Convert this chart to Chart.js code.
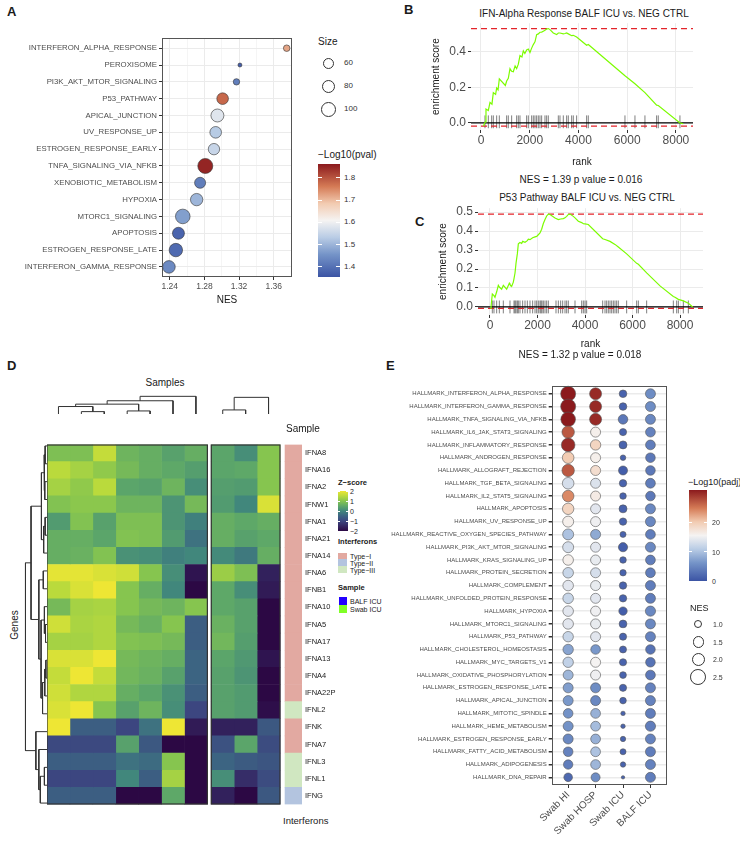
<!DOCTYPE html>
<html><head><meta charset="utf-8">
<script src="https://cdn.jsdelivr.net/npm/chart.js@4.4.1/dist/chart.umd.min.js"></script>
<style>
html,body{margin:0;padding:0;background:#fff;}
#root{position:relative;width:740px;height:845px;overflow:hidden;font-family:"Liberation Sans",Arial,sans-serif;color:#1a1a1a;background:#fff;}
.t{position:absolute;white-space:nowrap;line-height:1;}
canvas{position:absolute;}
.sw{position:absolute;}
</style></head><body><div id="root"></div>
<script>
// ================= DATA =================
// Panel A
const pathwaysA = ['INTERFERON_ALPHA_RESPONSE','PEROXISOME','PI3K_AKT_MTOR_SIGNALING','P53_PATHWAY','APICAL_JUNCTION','UV_RESPONSE_UP','ESTROGEN_RESPONSE_EARLY','TNFA_SIGNALING_VIA_NFKB','XENOBIOTIC_METABOLISM','HYPOXIA','MTORC1_SIGNALING','APOPTOSIS','ESTROGEN_RESPONSE_LATE','INTERFERON_GAMMA_RESPONSE'];
const nesA  = [1.375,1.321,1.317,1.301,1.295,1.293,1.291,1.281,1.275,1.271,1.255,1.250,1.247,1.239];
const sizeA = [22,8,21,69,86,69,66,115,62,78,109,73,92,81];
const pvalA = [1.72,1.37,1.42,1.78,1.58,1.53,1.55,1.85,1.42,1.50,1.47,1.38,1.39,1.44];
const sizeLegendA = [60,80,100];
const pvalTicksA = [1.4,1.5,1.6,1.7,1.8];
const pvalRangeA = [1.354,1.862];

// Panels B, C shared ticks
const rankTicks = [0,2000,4000,6000,8000];
// Panel B (running enrichment score: [rank, ES]) and hit ranks
const esCurveB = [[100,-0.018],[170,0.005],[205,0.078],[300,0.07],[370,0.115],[450,0.105],[506,0.17],[600,0.16],[643,0.196],[700,0.185],[752,0.247],[1000,0.21],[1053,0.235],[1121,0.25],[1190,0.305],[1258,0.29],[1326,0.287],[1400,0.32],[1463,0.305],[1532,0.33],[1600,0.378],[1680,0.37],[1737,0.405],[1800,0.39],[1873,0.41],[1942,0.415],[2010,0.396],[2079,0.42],[2147,0.44],[2215,0.455],[2284,0.496],[2352,0.5],[2420,0.509],[2489,0.51],[2557,0.515],[2626,0.52],[2694,0.527],[2762,0.53],[2831,0.524],[2967,0.505],[3104,0.496],[3173,0.505],[3241,0.505],[3378,0.5],[3446,0.502],[3515,0.505],[3583,0.5],[3720,0.49],[3788,0.492],[3925,0.482],[4335,0.436],[4403,0.44],[5908,0.265],[6318,0.22],[6728,0.17],[7207,0.1],[7275,0.098],[8164,0.0],[8300,-0.005]];
const hitsB = [164,301,438,506,643,752,1053,1121,1258,1463,1532,1600,1873,1942,2079,2147,2215,2284,2352,2420,2489,2626,2694,2762,3173,3241,3378,3515,3583,3720,3788,3925,4335,4403,5908,6318,6728,7207,7275,8164];
const esTicksB = [0,0.2,0.4];
const titleB = 'IFN-Alpha Response BALF ICU vs. NEG CTRL';
const statB = 'NES =  1.39 p value = 0.016';

// Panel C
const esCurveC = [[20,-0.008],[42,0],[98,0.068],[168,0.06],[210,0.051],[281,0.08],[351,0.114],[393,0.105],[491,0.094],[561,0.114],[702,0.094],[814,0.125],[842,0.118],[912,0.108],[982,0.131],[1011,0.15],[1053,0.179],[1095,0.23],[1151,0.28],[1193,0.333],[1263,0.34],[1333,0.335],[1375,0.346],[1474,0.341],[1572,0.35],[1614,0.358],[1684,0.355],[1796,0.365],[1895,0.37],[1965,0.372],[2035,0.381],[2105,0.39],[2175,0.41],[2246,0.44],[2316,0.461],[2386,0.48],[2456,0.49],[2526,0.488],[2737,0.469],[2877,0.461],[2975,0.464],[3088,0.466],[3158,0.47],[3228,0.478],[3298,0.488],[3368,0.49],[3509,0.478],[3579,0.47],[3719,0.452],[3860,0.445],[3930,0.439],[4000,0.438],[4140,0.435],[4744,0.36],[4842,0.356],[5053,0.346],[5263,0.33],[5403,0.316],[5754,0.28],[6175,0.23],[6246,0.225],[6596,0.18],[7158,0.111],[7719,0.055],[7789,0.051],[7930,0.04],[8140,0.032],[8351,0.02],[8533,0]];
const hitsC = [98,168,281,393,561,842,1011,1053,1095,1151,1193,1263,1375,1474,1572,1684,1796,1895,1965,2035,2105,2147,2189,2246,2316,2386,2456,2779,2877,2975,3060,3158,3228,3298,3579,3860,3930,4000,4070,4744,4842,4912,4982,5053,5123,5193,5263,5333,5403,5754,6175,6246,6596,7719,7860,7930,8140,8351];
const esTicksC = [0,0.1,0.2,0.3,0.4,0.5];
const titleC = 'P53 Pathway BALF ICU vs. NEG CTRL';
const statC = 'NES = 1.32 p value = 0.018';

// Panel D (z-scores per sample, rows in gene order)
const genesD = ['IFNA8','IFNA16','IFNA2','IFNW1','IFNA1','IFNA21','IFNA14','IFNA6','IFNB1','IFNA10','IFNA5','IFNA17','IFNA13','IFNA4','IFNA22P','IFNL2','IFNK','IFNA7','IFNL3','IFNL1','IFNG'];
const ifnTypeD = ['Type\u2212I','Type\u2212I','Type\u2212I','Type\u2212I','Type\u2212I','Type\u2212I','Type\u2212I','Type\u2212I','Type\u2212I','Type\u2212I','Type\u2212I','Type\u2212I','Type\u2212I','Type\u2212I','Type\u2212I','Type\u2212III','Type\u2212I','Type\u2212I','Type\u2212III','Type\u2212III','Type\u2212II'];
const BALF_ICU_1 = [0.9,1.5,1.3,0.95,0.3,0.6,0.6,1.9,1.5,0.8,1.7,1.3,1.8,1.6,1.7,1.8,2.0,-0.95,-0.6,-1.0,-0.6];
const BALF_ICU_2 = [0.9,1.3,1.1,1.05,0.95,0.6,0.65,1.9,1.8,1.3,1.35,1.3,1.8,2.0,1.4,2.0,-0.6,-0.95,-0.6,-1.0,-0.6];
const BALF_ICU_3 = [1.6,1.1,1.5,1.05,0.4,0.45,0.95,1.8,2.0,1.35,1.4,1.4,2.0,1.6,1.4,1.0,-0.6,-0.95,-0.6,-1.0,-0.6];
const BALF_ICU_4 = [0.7,0.8,0.45,0.7,0.9,0.95,0.15,1.7,1.0,1.0,0.8,0.95,0.8,0.75,0.6,0.4,-1.0,0.4,-0.3,0.0,-2.0];
const BALF_ICU_5 = [0.6,0.6,0.4,0.7,0.9,0.9,0.1,1.0,0.6,0.8,0.65,0.9,0.7,0.65,0.45,0.7,-0.3,-0.7,-0.4,-0.6,-2.0];
const BALF_ICU_6 = [0.4,0.5,0.7,0.2,0.2,0.3,-0.1,0.1,0.0,0.7,1.0,0.8,0.6,0.4,0.15,0.1,2.0,-2.0,1.0,1.3,0.5];
const BALF_ICU_7 = [0.6,0.35,0.1,0.8,-0.1,-0.3,0.0,-1.8,-2.0,1.0,-0.6,-0.6,-0.5,-0.5,-0.6,-1.0,-1.7,-2.0,-2.0,-2.0,-2.0];
const Swab_ICU_1 = [0.45,0.45,0.35,0.3,0.6,0.6,0.05,1.2,0.5,0.5,0.65,0.75,0.45,0.4,0.4,0.4,-1.6,-0.8,-0.5,0.1,-1.6];
const Swab_ICU_2 = [0.1,0.5,0.3,0.0,0.5,0.4,-0.2,0.9,0.1,0.4,0.4,0.35,0.25,0.2,0.3,0.3,-1.6,0.45,-0.65,-1.4,-2.0];
const Swab_ICU_3 = [1.0,1.0,1.0,1.8,0.6,0.5,0.6,-1.6,-1.7,-2.0,-2.0,-2.0,-1.8,-2.0,-2.0,-1.9,-0.7,-0.9,-0.75,-0.9,-0.7];
const samplesD = [BALF_ICU_1,BALF_ICU_2,BALF_ICU_3,BALF_ICU_4,BALF_ICU_5,BALF_ICU_6,BALF_ICU_7,Swab_ICU_1,Swab_ICU_2,Swab_ICU_3];
const sampleGroupD = ['BALF ICU','BALF ICU','BALF ICU','BALF ICU','BALF ICU','BALF ICU','BALF ICU','Swab ICU','Swab ICU','Swab ICU'];
// dendrograms: [left, right, height]; leaves are indices
const colTreeBALF = [[[[0,[1,2,7],22],[3,4,9],29],5,39],6,52];
const colTreeSwab = [[7,8,12],9,49];
const rowTree = [[[[[0,1,5],[2,3,6],8],[[4,5,5],6,9],15],[[7,8,10],[[9,[10,11,4],7],[[[12,13,3],14,6],15,12],16],22],43],[16,[17,[[18,19,7],20,18],22],30],58];
const zTicksD = [2,1,0,-1,-2];

// Panel E
const groupsE = ['Swab HI','Swab HOSP','Swab ICU','BALF ICU'];
const pathwaysE = ['HALLMARK_INTERFERON_ALPHA_RESPONSE','HALLMARK_INTERFERON_GAMMA_RESPONSE','HALLMARK_TNFA_SIGNALING_VIA_NFKB','HALLMARK_IL6_JAK_STAT3_SIGNALING','HALLMARK_INFLAMMATORY_RESPONSE','HALLMARK_ANDROGEN_RESPONSE','HALLMARK_ALLOGRAFT_REJECTION','HALLMARK_TGF_BETA_SIGNALING','HALLMARK_IL2_STAT5_SIGNALING','HALLMARK_APOPTOSIS','HALLMARK_UV_RESPONSE_UP','HALLMARK_REACTIVE_OXYGEN_SPECIES_PATHWAY','HALLMARK_PI3K_AKT_MTOR_SIGNALING','HALLMARK_KRAS_SIGNALING_UP','HALLMARK_PROTEIN_SECRETION','HALLMARK_COMPLEMENT','HALLMARK_UNFOLDED_PROTEIN_RESPONSE','HALLMARK_HYPOXIA','HALLMARK_MTORC1_SIGNALING','HALLMARK_P53_PATHWAY','HALLMARK_CHOLESTEROL_HOMEOSTASIS','HALLMARK_MYC_TARGETS_V1','HALLMARK_OXIDATIVE_PHOSPHORYLATION','HALLMARK_ESTROGEN_RESPONSE_LATE','HALLMARK_APICAL_JUNCTION','HALLMARK_MITOTIC_SPINDLE','HALLMARK_HEME_METABOLISM','HALLMARK_ESTROGEN_RESPONSE_EARLY','HALLMARK_FATTY_ACID_METABOLISM','HALLMARK_ADIPOGENESIS','HALLMARK_DNA_REPAIR'];
const padjSwabHI   = [31,31,31,27,30,20,27,13,24,19,16,10,13,16,12,14,12,14,14,12,7.5,11.5,9,7,6.5,6,6,5,4.5,4,2];
const padjSwabHOSP = [30,30,30,16,19,16,18,13.5,16.5,14,15,8,14,14.5,13,14.5,14,15,14.5,14,6.5,15.5,15,5.5,5,8.5,9.5,8.5,10,9,5.5];
const padjSwabICU  = [1.5,1.5,3.5,1.5,1.5,1.5,1,1.5,1.5,1.5,1.5,1.5,1,1.5,1.5,1.5,1.5,1,1.5,1.5,1.5,1.5,1.5,1.5,1.5,1.5,1.5,1.5,1.5,1.5,1.5];
const padjBALFICU  = [5.5,5.5,5,4.5,4,3.5,3.5,4,3.5,5,5,4,5,4,4,4,4,5,5,4.5,3,3,3.5,4.5,4.5,4,4,4.5,4,4.5,4];
const nesSwabHI    = [2.49,2.49,2.39,1.87,2.14,1.70,1.87,1.70,1.70,1.66,1.58,1.58,1.58,1.50,1.50,1.50,1.50,1.50,1.50,1.47,1.47,1.47,1.40,1.40,1.40,1.33,1.40,1.40,1.33,1.29,1.17];
const nesSwabHOSP  = [1.78,1.78,1.78,1.40,1.47,1.40,1.40,1.40,1.40,1.40,1.40,1.40,1.40,1.40,1.40,1.40,1.40,1.40,1.40,1.40,1.33,1.40,1.40,1.40,1.40,1.36,1.36,1.36,1.36,1.36,1.23];
const nesSwabICU   = [1.03,1.03,1.33,0.97,1.08,0.79,1.23,1.0,0.9,1.08,1.0,0.84,1.26,0.9,0.88,1.0,1.0,1.14,1.05,0.97,0.95,0.97,0.92,0.97,0.9,0.69,0.69,0.77,0.84,0.77,0.62];
const nesBALFICU   = [1.40,1.40,1.40,1.36,1.36,1.33,1.33,1.36,1.33,1.40,1.40,1.36,1.40,1.36,1.36,1.40,1.40,1.43,1.40,1.40,1.33,1.33,1.36,1.40,1.40,1.40,1.43,1.40,1.40,1.40,1.40];
const padjRangeE = [0,31];
const padjTicksE = [0,10,20];
const nesLegendE = [1.0,1.5,2.0,2.5];

// ================= HELPERS =================
const root = document.getElementById('root');
function T(s,x,y,o={}){
  const d=document.createElement('div'); d.className='t'; d.textContent=s;
  d.style.fontSize=(o.size||10)+'px'; d.style.left=x+'px'; d.style.top=y+'px';
  if(o.bold) d.style.fontWeight='bold';
  d.style.color=o.color||'#1a1a1a';
  const tx=o.align==='center'?'-50%':o.align==='right'?'-100%':'0';
  d.style.transform=`translate(${tx},-50%)`+(o.rot?` rotate(${o.rot}deg)`:'');
  root.appendChild(d); return d;
}
function box(x,y,w,h,css){const d=document.createElement('div');d.className='sw';d.style.cssText+=`left:${x}px;top:${y}px;width:${w}px;height:${h}px;`+css;root.appendChild(d);return d;}
function mkCanvas(l,t,w,h){const c=document.createElement('canvas');c.width=w;c.height=h;c.style.left=l+'px';c.style.top=t+'px';c.style.width=w+'px';c.style.height=h+'px';root.appendChild(c);return c;}
function lerpStops(stops,t){t=Math.max(0,Math.min(1,t));for(let i=1;i<stops.length;i++){if(t<=stops[i][0]){const [t0,c0]=stops[i-1],[t1,c1]=stops[i];const f=(t-t0)/(t1-t0);return 'rgb('+c0.map((v,k)=>Math.round(v+(c1[k]-v)*f)).join(',')+')';}}return 'rgb('+stops[stops.length-1][1].join(',')+')';}
const RDBU=[[0,[59,84,164]],[0.2,[117,148,200]],[0.35,[185,204,229]],[0.5,[245,243,242]],[0.65,[242,203,177]],[0.8,[213,123,86]],[1,[139,26,29]]];
const VIR=[[0,[44,8,68]],[0.25,[60,70,128]],[0.375,[60,100,130]],[0.5,[65,135,124]],[0.625,[94,168,104]],[0.75,[134,197,79]],[0.875,[186,218,60]],[1,[238,230,52]]];
const rdbu=t=>lerpStops(RDBU,t);
const zColor=z=>lerpStops(VIR,(z+2)/4);
function gradCSS(stops,dir){return 'linear-gradient('+dir+','+stops.map(s=>`rgb(${s[1].join(',')}) ${s[0]*100}%`).join(',')+')';}
const sizeToR=s=>0.7*Math.sqrt(s);
const nesToR=n=>Math.sqrt(Math.max(1,13.7+28.5*(n-1)));
function boxPlugin(color){return {id:'panelbox',afterDatasetsDraw(c){const a=c.chartArea,ctx=c.ctx;ctx.save();ctx.strokeStyle=color;ctx.lineWidth=1;ctx.strokeRect(Math.round(a.left)+0.5,Math.round(a.top)+0.5,Math.round(a.right-a.left)-1,Math.round(a.bottom-a.top)-1);ctx.restore();}};}

Chart.defaults.font.family='"Liberation Sans", Arial, sans-serif';
Chart.defaults.color='#4D4D4D';
Chart.defaults.animation=false;
Chart.defaults.responsive=false;
Chart.defaults.devicePixelRatio=1;
Chart.defaults.plugins.legend.display=false;
Chart.defaults.plugins.tooltip.enabled=false;
Chart.defaults.events=[];

// ================= PANEL LETTERS =================
T('A',7,11,{size:13,bold:true});
T('B',404,9,{size:13,bold:true});
T('C',415,221,{size:13,bold:true});
T('D',7,365,{size:13,bold:true});
T('E',386,365,{size:13,bold:true});

// ================= PANEL A =================
const isMajorA=v=>Math.round(v*100)%4===0;
new Chart(mkCanvas(0,30,300,276),{
  type:'bubble',
  data:{datasets:[{data:pathwaysA.map((p,i)=>({x:nesA[i],y:i+1,r:sizeToR(sizeA[i])})),
    backgroundColor:pvalA.map(v=>rdbu((v-pvalRangeA[0])/(pvalRangeA[1]-pvalRangeA[0]))),
    borderColor:'#333',borderWidth:0.6,clip:false}]},
  options:{layout:{padding:{top:6,right:4,left:0,bottom:0}},
    scales:{
      x:{type:'linear',min:1.231,max:1.381,afterFit:s=>{s.height=29;},border:{display:false},
        grid:{color:'#EBEBEB',lineWidth:c=>isMajorA(c.tick.value)?1:0.5,tickColor:c=>isMajorA(c.tick.value)?'#333':'rgba(0,0,0,0)',tickLength:3},
        ticks:{stepSize:0.02,includeBounds:false,autoSkip:false,maxRotation:0,padding:2,font:{size:8.5},callback:v=>isMajorA(v)?v.toFixed(2):''},
        title:{display:true,text:'NES',color:'#1a1a1a',font:{size:10},padding:{top:0,bottom:0}}},
      y:{type:'linear',min:0.4,max:14.6,reverse:true,afterFit:s=>{s.width=162;},
        afterBuildTicks:s=>{s.ticks=pathwaysA.map((_,i)=>({value:i+1}));},border:{display:false},
        grid:{color:'#EBEBEB',tickColor:'#333',tickLength:3},
        ticks:{autoSkip:false,padding:2,font:{size:7.8},callback:v=>pathwaysA[v-1]}}
    }},
  plugins:[boxPlugin('#555')]
});
// legend A
T('Size',318,42,{size:10});
const sizeLegY=[63,86,109];
sizeLegendA.forEach((s,i)=>{const r=sizeToR(s);box(328-r,sizeLegY[i]-r,2*r-1.2,2*r-1.2,'border:0.6px solid #333;border-radius:50%;background:#fff;');T(String(s),344,sizeLegY[i],{size:8,color:'#333'});});
T('\u2212Log10(pval)',318,155,{size:10});
box(318,164,22,113,'background:'+gradCSS(RDBU,'to top')+';');
pvalTicksA.forEach(v=>{const y=277-(v-pvalRangeA[0])/(pvalRangeA[1]-pvalRangeA[0])*113;
  box(318,y-0.5,4,1,'background:#fff;');box(336,y-0.5,4,1,'background:#fff;');
  T(v.toFixed(1),344,y,{size:8,color:'#333'});});

// ================= PANELS B, C =================
function gsea(canvas,curve,hits,xr,yr,yTicks,yW,xH,pad,titlePad,tickLo,tickHi){
  const esMax=Math.max(...curve.map(p=>p[1])),esMin=Math.min(...curve.map(p=>p[1]));
  const hitData=[];hits.forEach(r=>{hitData.push({x:r,y:tickLo},{x:r,y:tickHi},{x:null,y:null});});
  return new Chart(canvas,{type:'scatter',
    data:{datasets:[
      {data:curve.map(([x,y])=>({x,y})),showLine:true,borderColor:'#7CFC00',borderWidth:1.2,pointRadius:0},
      {data:[{x:xr[0],y:0},{x:xr[1],y:0}],showLine:true,borderColor:'#000',borderWidth:1.3,pointRadius:0},
      {data:[{x:xr[0],y:esMax},{x:xr[1],y:esMax}],showLine:true,borderColor:'#E3242B',borderDash:[6,4],borderWidth:1.3,pointRadius:0},
      {data:[{x:xr[0],y:esMin},{x:xr[1],y:esMin}],showLine:true,borderColor:'#E3242B',borderDash:[6,4],borderWidth:1.3,pointRadius:0},
      {data:hitData,showLine:true,spanGaps:false,borderColor:'rgba(0,0,0,0.5)',borderWidth:1,pointRadius:0}
    ]},
    options:{layout:{padding:pad},
      scales:{
        x:{type:'linear',min:xr[0],max:xr[1],afterFit:s=>{s.height=xH;},afterBuildTicks:s=>{s.ticks=rankTicks.map(v=>({value:v}));},border:{display:false},
          grid:{color:'#EBEBEB',tickColor:'#333',tickLength:3},
          ticks:{autoSkip:false,maxRotation:0,padding:0,font:{size:12},color:'#4D4D4D',callback:v=>String(v)},
          title:{display:true,text:'rank',color:'#1a1a1a',font:{size:10},padding:{top:0,bottom:2}}},
        y:{type:'linear',min:yr[0],max:yr[1],afterFit:s=>{s.width=yW;},afterBuildTicks:s=>{s.ticks=yTicks.map(v=>({value:v}));},border:{display:false},
          grid:{color:'#EBEBEB',tickColor:'#333',tickLength:3},
          ticks:{autoSkip:false,padding:2,font:{size:12},color:'#4D4D4D',callback:v=>v.toFixed(1)},
          title:{display:true,text:'enrichment score',color:'#1a1a1a',font:{size:10},padding:{top:titlePad,bottom:0}}}
      }}
  });
}
T(titleB,584,14,{size:10,align:'center'});
gsea(mkCanvas(420,14,276,156),esCurveB,hitsB,[-410,8700],[-0.04,0.56],esTicksB,51,40,{top:6,right:3,left:0,bottom:0},10,-0.03,0.042);
T(statB,581,180,{size:10,align:'center'});
T(titleC,587,198,{size:10,align:'center'});
gsea(mkCanvas(420,199,286,153),esCurveC,hitsC,[-505,8968],[-0.0425,0.521],esTicksC,58,37,{top:6,right:3,left:0,bottom:0},17,-0.034,0.034);
T(statC,580,355,{size:10,align:'center'});

// ================= PANEL D =================
const colStartD=samplesD.map((_,j)=>sampleGroupD[j]==='BALF ICU'?j:j+0.17);
const colCenterD=colStartD.map(s=>s+0.5);
const typeColor={'Type\u2212I':'#E2A9A1','Type\u2212II':'#B3C4DF','Type\u2212III':'#D0E7C1'};
const groupColor={'BALF ICU':'#2200FF','Swab ICU':'#80FF26'};
function dendro(node,pos,out){if(typeof node==='number')return{p:pos(node),h:0};const L=dendro(node[0],pos,out),R=dendro(node[1],pos,out),h=node[2];out.push([L.p,L.h],[L.p,h],[R.p,h],[R.p,R.h],null);return{p:(L.p+R.p)/2,h};}
// column dendrogram
const colSegs=[];dendro(colTreeBALF,j=>colCenterD[j],colSegs);dendro(colTreeSwab,j=>colCenterD[j],colSegs);
new Chart(mkCanvas(47,395,233,20),{type:'scatter',
  data:{datasets:[{data:colSegs.map(p=>p?{x:p[0],y:p[1]}:{x:null,y:null}),showLine:true,spanGaps:false,borderColor:'#333',borderWidth:1,pointRadius:0,clip:false}]},
  options:{layout:{padding:{top:1,bottom:1,left:0,right:0}},scales:{x:{type:'linear',min:0,max:10.17,display:false},y:{type:'linear',min:0,max:53,display:false}}}});
// row dendrogram
const rowSegs=[];dendro(rowTree,i=>i,rowSegs);
new Chart(mkCanvas(24,437,23,375),{type:'scatter',
  data:{datasets:[{data:rowSegs.map(p=>p?{x:p[1],y:p[0]}:{x:null,y:null}),showLine:true,spanGaps:false,borderColor:'#333',borderWidth:1,pointRadius:0,clip:false}]},
  options:{layout:{padding:0},scales:{x:{type:'linear',min:0,max:62,reverse:true,display:false},y:{type:'linear',min:-0.5,max:20.5,reverse:true,display:false}}}});
// sample annotation bar
new Chart(mkCanvas(47,417,293,16),{type:'bar',
  data:{labels:['Sample'],datasets:samplesD.map((_,j)=>({data:[[colStartD[j],colStartD[j]+1]],backgroundColor:groupColor[sampleGroupD[j]],borderColor:'#333',borderWidth:1,borderSkipped:false,barPercentage:1,categoryPercentage:1,grouped:false}))},
  options:{indexAxis:'y',layout:{padding:0},
    scales:{x:{type:'linear',min:0,max:10.17,display:false},
      y:{position:'right',afterFit:s=>{s.width=60;},grid:{display:false,drawTicks:false},border:{display:false},ticks:{padding:6,font:{size:10},color:'#1a1a1a'}}}}});
// heatmap
const blockPlugin={id:'blocks',afterDatasetsDraw(c){const x=c.scales.x,a=c.chartArea,ctx=c.ctx;ctx.save();ctx.strokeStyle='#333';ctx.lineWidth=1.2;
  [[0,7],[7.17,10.17]].forEach(([s,e])=>{const l=x.getPixelForValue(s),r=x.getPixelForValue(e);ctx.strokeRect(l,a.top+0.5,r-l,a.bottom-a.top-1);});ctx.restore();}};
const heatSets=samplesD.map((col,j)=>({data:genesD.map(()=>[colStartD[j],colStartD[j]+1]),backgroundColor:col.map(zColor),borderWidth:0,barPercentage:1,categoryPercentage:1,grouped:false}));
heatSets.push({data:genesD.map(()=>[10.39,11.13]),backgroundColor:ifnTypeD.map(t=>typeColor[t]),borderWidth:0,barPercentage:1,categoryPercentage:1,grouped:false});
new Chart(mkCanvas(47,437,290,375),{type:'bar',
  data:{labels:genesD,datasets:heatSets},
  options:{indexAxis:'y',layout:{padding:0},
    scales:{x:{type:'linear',min:0,max:11.13,display:false},
      y:{position:'right',afterFit:s=>{s.width=35;},grid:{display:false,drawTicks:false},border:{display:false},ticks:{padding:3,font:{size:7.5},color:'#1a1a1a',autoSkip:false}}}},
  plugins:[blockPlugin]});
T('Samples',165,383,{size:10,align:'center'});
T('Genes',15,625,{size:10,align:'center',rot:-90});
T('Interferons',283,821,{size:9.5});
// legend D
T('Z\u2212score',338,483,{size:7.5,bold:true});
box(338,491,10,40,'background:'+gradCSS(VIR,'to top')+';');
zTicksD.forEach(z=>{const y=511-z*10;box(338,y-0.5,2,1,'background:#fff;');box(346,y-0.5,2,1,'background:#fff;');T(z<0?'\u2212'+Math.abs(z):String(z),350,y,{size:7,color:'#1a1a1a'});});
T('Interferons',338,542,{size:7.5,bold:true});
['Type\u2212I','Type\u2212II','Type\u2212III'].forEach((t,i)=>{const y=556+i*6.8;box(338,y-3.4,9,6.8,'background:'+typeColor[t]+';');T(t,350,y,{size:7});});
T('Sample',338,588,{size:7.5,bold:true});
['BALF ICU','Swab ICU'].forEach((g,i)=>{const y=601+i*8;box(339,y-3.6,8,7.2,'background:'+groupColor[g]+';');T(g,350,y,{size:7});});

// ================= PANEL E =================
const padjE=[padjSwabHI,padjSwabHOSP,padjSwabICU,padjBALFICU];
const nesE=[nesSwabHI,nesSwabHOSP,nesSwabICU,nesBALFICU];
const ptsE=[],colsE=[];
pathwaysE.forEach((p,i)=>{groupsE.forEach((g,j)=>{ptsE.push({x:j+1,y:i+1,r:nesToR(nesE[j][i])});colsE.push(rdbu((padjE[j][i]-padjRangeE[0])/(padjRangeE[1]-padjRangeE[0])));});});
new Chart(mkCanvas(385,378,290,462),{type:'bubble',
  data:{datasets:[{data:ptsE,backgroundColor:colsE,borderColor:'#555',borderWidth:0.6,clip:false}]},
  options:{layout:{padding:{top:4.7,right:2.7,left:0,bottom:0}},
    scales:{
      x:{type:'linear',min:0.4,max:4.6,afterFit:s=>{s.height=55;},afterBuildTicks:s=>{s.ticks=groupsE.map((_,j)=>({value:j+1}));},border:{display:false},
        grid:{drawOnChartArea:false,tickColor:'#333',tickLength:3},
        ticks:{autoSkip:false,minRotation:45,maxRotation:45,padding:1,font:{size:10},color:'#4D4D4D',callback:v=>groupsE[v-1]}},
      y:{type:'linear',min:0.4,max:31.6,reverse:true,afterFit:s=>{s.width=166.7;},afterBuildTicks:s=>{s.ticks=pathwaysE.map((_,i)=>({value:i+1}));},border:{display:false},
        grid:{color:'#EBEBEB',lineWidth:1.5,tickColor:'#333',tickLength:3},
        ticks:{autoSkip:false,padding:2,font:{size:6},color:'#4D4D4D',callback:v=>pathwaysE[v-1]}}
    }},
  plugins:[boxPlugin('#555')]});
// legend E
T('\u2212Log10(padj)',688,482,{size:9});
box(689,490,18,91,'background:'+gradCSS(RDBU,'to top')+';');
padjTicksE.forEach(v=>{const y=581-(v-padjRangeE[0])/(padjRangeE[1]-padjRangeE[0])*91;box(689,y-0.5,3,1,'background:#fff;');box(704,y-0.5,3,1,'background:#fff;');T(String(v),712,y,{size:7,color:'#333'});});
T('NES',690,608,{size:9});
const nesLegY=[624,641.7,659,676.7];
nesLegendE.forEach((n,i)=>{const r=nesToR(n);box(698-r,nesLegY[i]-r,2*r-1.2,2*r-1.2,'border:0.6px solid #333;border-radius:50%;background:#fff;');T(n.toFixed(1),713,nesLegY[i],{size:7,color:'#333'});});
</script></body></html>
